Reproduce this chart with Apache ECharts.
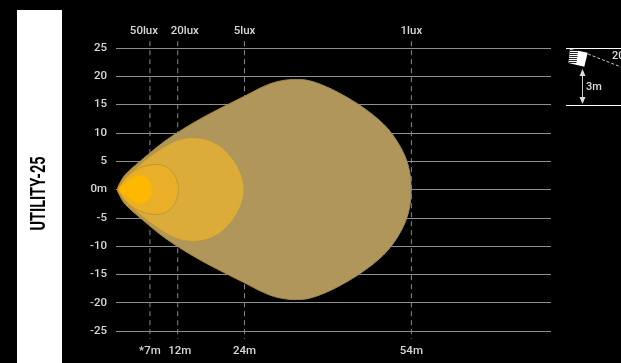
<!DOCTYPE html>
<html><head><meta charset="utf-8">
<style>html,body{margin:0;padding:0;background:#000}#c{width:621px;height:363px}</style>
<script src="https://cdn.jsdelivr.net/npm/echarts@6/dist/echarts.min.js"></script>
</head><body><div id="c"></div>
<script>
var yTicks = [25,20,15,10,5,0,-5,-10,-15,-20,-25];
var distanceTicks = [7,12,24,54];
var distanceLabels = ['*7m','12m','24m','54m'];
var luxLabels = ['50lux','20lux','5lux','1lux'];
var guideTop = 26.2, guideBottom = -26.4;
var contour1lux = [[1.17,0],[1.53,0.98],[2.61,2.66],[5.31,5.05],[10.16,8.87],[16.28,12.59],[23.83,16.40],[27.79,18.35],[30.49,19.18],[33.36,19.45],[36.24,19.06],[40.38,17.38],[45.23,14.54],[49.37,11.17],[52.07,7.45],[53.51,3.90],[53.96,0]];
var contour5lux = [[1.26,0],[2.07,1.42],[4.41,3.72],[7.10,5.90],[10.16,7.89],[12.5,8.87],[14.89,9.17],[17.36,8.78],[19.69,7.62],[21.67,5.67],[23.02,3.55],[23.74,1.60],[23.92,0]];
var contour20lux = [[1.29,0],[1.76,0.89],[2.66,2.07],[3.87,3.07],[5.67,4.02],[8.36,4.43],[10.16,3.85],[11.37,2.66],[11.96,1.19],[12.14,0]];
var contour50lux = [[1.53,0],[2.91,1.24],[4.05,2.07],[5.31,2.42],[6.38,2.12],[7.0,1.3],[7.25,0]];
var contourFill = ['#B0965A','#DBAC3A','#E9AF28','#FFB800'];
var contourEdge = ['#A68C50','#B8963C','#C09630','#FFB800'];
var contours = [contour1lux,contour5lux,contour20lux,contour50lux];

function mirrored(c){
  var lower = c.slice(1,-1).reverse().map(function(p){return [p[0],-p[1]];});
  return c.concat(lower);
}
function closedCurve(pts){
  var n=pts.length,out=[];
  for(var i=0;i<n;i++){
    var p0=pts[(i-1+n)%n],p1=pts[i],p2=pts[(i+1)%n],p3=pts[(i+2)%n];
    for(var k=0;k<8;k++){
      var t=k/8,t2=t*t,t3=t2*t,q=[];
      for(var a=0;a<2;a++){
        q[a]=0.5*(2*p1[a]+(p2[a]-p0[a])*t+(2*p0[a]-5*p1[a]+4*p2[a]-p3[a])*t2+(3*p1[a]-p0[a]-3*p2[a]+p3[a])*t3);
      }
      out.push(q);
    }
  }
  return out;
}
var guideSeries = distanceTicks.map(function(d){
  return {type:'line',data:[[d,guideTop],[d,guideBottom]],symbol:'none',clip:false,silent:true,z:1,
    lineStyle:{color:'#8a8a8a',width:1,type:[5,4]}};
});
var shapeSeries = {type:'custom',coordinateSystem:'cartesian2d',z:3,silent:true,clip:false,
  data:contours.map(function(c,i){return [c[0][0],0,i];}),
  encode:{x:0,y:1},
  renderItem:function(params,api){
    var i=api.value(2);
    var pts=mirrored(contours[i]).map(function(p){return api.coord(p);});
    return {type:'polygon',shape:{points:closedCurve(pts)},
      style:{fill:contourFill[i],stroke:contourEdge[i],lineWidth:1},z2:i};
  }};
var labelStyle={color:'#d8d8d8',fontFamily:'Roboto',fontSize:11.5,fontWeight:500};
var nudge=function(left,right){return Object.assign({padding:[0,right,0,left]},labelStyle);};
var richLabels={a:nudge(0,12),b:nudge(14,0),c:nudge(0,0),d:nudge(4,0)};
var chart=echarts.init(document.getElementById('c'),null,{renderer:'canvas'});
function lamp(){
  var els=[
    {type:'rect',shape:{x:566,y:48,width:55,height:1},style:{fill:'#fff'}},
    {type:'rect',shape:{x:566,y:105,width:55,height:1},style:{fill:'#fff'}},
    {type:'polygon',shape:{points:[[570,49],[587.7,52.7],[584.3,66.7],[568.5,63]]},style:{fill:'#fff'}},
    {type:'line',shape:{x1:588,y1:54,x2:621,y2:67},style:{stroke:'#ccc',lineWidth:1,lineDash:[3,2]}},
    {type:'line',shape:{x1:582.5,y1:72,x2:582.5,y2:102},style:{stroke:'#ccc',lineWidth:1}},
    {type:'polygon',shape:{points:[[582.5,69],[579.5,76],[585.5,76]]},style:{fill:'#ddd'}},
    {type:'polygon',shape:{points:[[582.5,104],[579.5,97],[585.5,97]]},style:{fill:'#ddd'}},
    {type:'text',style:{x:586,y:87,text:'3m',fill:'#ddd',font:'500 11px Roboto',textVerticalAlign:'middle'}},
    {type:'text',style:{x:612,y:56,text:'20°',fill:'#ddd',font:'500 11px Roboto',textVerticalAlign:'middle'}}
  ];
  [[50.5,570,578],[52.5,570,578],[54.5,569.5,577.5],[56.5,569.5,577.5],[58.5,569,577],[60.5,569,577],[62.5,569,576.5]].forEach(function(r){
    els.push({type:'line',shape:{x1:r[1],y1:r[0],x2:r[2],y2:r[0]},style:{stroke:'#000',lineWidth:1,opacity:0.85}});
  });
  return els;
}
var labelKeys=['a','b','c','c'], labelKeysBottom=['c','d','c','c'];
chart.setOption({
  backgroundColor:'#000',animation:false,
  grid:{left:116,right:70,top:48,height:283,containLabel:false},
  xAxis:[
    {type:'value',position:'bottom',min:0.9,max:79.1,
     axisLine:{show:false},axisTick:{show:false},splitLine:{show:false},
     axisLabel:{customValues:distanceTicks,margin:14,hideOverlap:false,rich:richLabels,
       formatter:function(v){var i=distanceTicks.indexOf(v);return '{'+labelKeysBottom[i]+'|'+distanceLabels[i]+'}';}}},
    {type:'value',position:'top',min:0.9,max:79.1,
     axisLine:{show:false},axisTick:{show:false},splitLine:{show:false},
     axisLabel:{customValues:distanceTicks,margin:11,hideOverlap:false,rich:richLabels,
       formatter:function(v){var i=distanceTicks.indexOf(v);return '{'+labelKeys[i]+'|'+luxLabels[i]+'}';}}}
  ],
  yAxis:{type:'value',min:-25,max:25,interval:5,
    axisLine:{show:false},axisTick:{show:false},
    splitLine:{show:true,lineStyle:{color:'#8f8f8f',width:1}},
    axisLabel:Object.assign({margin:9,formatter:function(v){return v===0?'0m':String(v);}},labelStyle)},
  series:guideSeries.concat([shapeSeries]),
  graphic:[
    {type:'rect',shape:{x:17,y:10,width:45,height:353},style:{fill:'#fff'},z:10},
    {type:'text',x:40,y:193.5,rotation:Math.PI/2,scaleX:0.69,scaleY:1,z:11,
      style:{text:'UTILITY-25',fill:'#000',font:'bold 21px Roboto',align:'center',verticalAlign:'middle'}},
    {type:'group',z:12,children:lamp()}
  ]
});
</script></body></html>
